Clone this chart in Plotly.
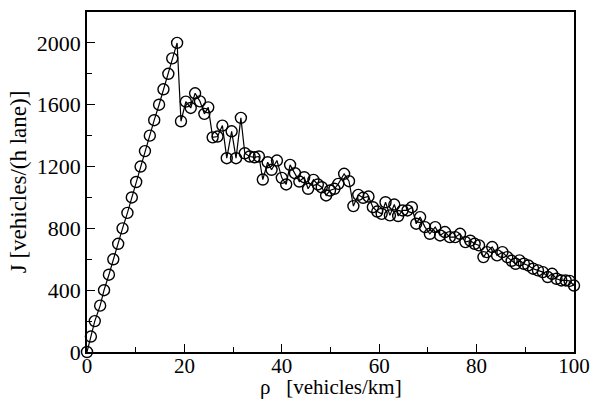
import plotly.graph_objects as go

# Linear (free-flow) branch
rho_free = [0, 0.8, 1.6, 2.7, 3.5, 4.5, 5.4, 6.4, 7.3, 8.3, 9.2, 10.1, 11.0,
            11.9, 12.9, 13.8, 14.8, 15.7, 16.7, 17.5, 18.5]
J_free = [0, 100, 200, 300, 400, 500, 600, 700, 800, 900, 1000, 1100, 1200,
          1300, 1400, 1500, 1600, 1700, 1800, 1900, 2000]

# Congested branch
rho_cong = [19.3, 20.3, 21.3, 22.2, 23.2, 24.1, 24.9, 25.8, 26.8, 27.8, 28.7, 29.7,
            30.6, 31.6, 32.4, 33.4, 34.4, 35.3, 36.1, 37.1, 37.9, 39.0, 40.0, 40.9,
            41.7, 42.7, 43.6, 44.6, 45.4, 46.5, 47.4, 48.2, 49.1, 49.9, 50.8, 51.6,
            52.8, 53.8, 54.7, 55.7, 56.7, 57.8, 58.7, 59.6, 60.5, 61.3, 62.2, 63.1,
            63.9, 64.8, 65.8, 66.7, 67.6, 68.4, 69.4, 70.4, 71.5, 72.5, 73.5, 74.5,
            75.6, 76.6, 77.7, 78.7, 79.6, 80.5, 81.4, 82.1, 83.2, 84.2, 85.3, 86.3,
            87.2, 88.0, 88.8, 89.7, 90.6, 91.6, 92.6, 93.6, 94.6, 95.5, 96.4, 97.4,
            98.3, 99.1, 100.0]
J_cong = [1493, 1620, 1579, 1674, 1622, 1541, 1583, 1389, 1394, 1465, 1254, 1428,
          1254, 1515, 1286, 1265, 1260, 1265, 1116, 1228, 1179, 1239, 1127, 1084,
          1211, 1157, 1103, 1131, 1056, 1114, 1084, 1066, 1013, 1045, 1056, 1088,
          1153, 1105, 944, 1017, 998, 1006, 937, 909, 894, 969, 884, 954,
          880, 916, 916, 937, 830, 873, 808, 765, 808, 754, 776, 743,
          743, 765, 711, 720, 700, 690, 614, 646, 679, 625, 646, 614,
          590, 571, 593, 571, 560, 539, 528, 517, 485, 506, 474, 463,
          463, 460, 430]

rho = rho_free + rho_cong
J = J_free + J_cong

x_ticks = [0, 20, 40, 60, 80, 100]
y_ticks = [0, 400, 800, 1200, 1600, 2000]
x_title = "ρ   [vehicles/km]"
y_title = "J [vehicles/(h lane)]"

font_family = "Liberation Serif"

fig = go.Figure()
fig.add_trace(go.Scatter(
    x=rho, y=J, mode="lines+markers",
    line=dict(color="black", width=1.2),
    marker=dict(symbol="circle-open", size=11, color="black",
                line=dict(color="black", width=1.4)),
    cliponaxis=False,
    showlegend=False,
))

axis_common = dict(
    showgrid=False, zeroline=False, automargin=False,
    showline=True, linecolor="black", linewidth=1.5, mirror=True,
    ticks="inside", ticklen=8, tickwidth=1.2, tickcolor="black",
    ticklabeloverflow="allow",
)

fig.update_xaxes(
    range=[0, 100], tickvals=x_ticks,
    minor=dict(ticks="inside", dtick=10, ticklen=5, tickwidth=1.2, tickcolor="black"),
    tickfont=dict(family=font_family, size=21, color="black"),
    ticklabelstandoff=-6,
    **axis_common,
)
fig.update_yaxes(
    range=[0, 2200], tickvals=y_ticks,
    minor=dict(ticks="inside", dtick=200, ticklen=5, tickwidth=1.2, tickcolor="black"),
    tickfont=dict(family=font_family, size=22, color="black"),
    title=dict(text=y_title, font=dict(family=font_family, size=23, color="black"),
               standoff=4),
    **axis_common,
)

# x-axis title placed just below the tick labels
fig.add_annotation(
    text=x_title, xref="paper", yref="paper", x=0.5, y=0,
    xanchor="center", yanchor="middle", yshift=-35, showarrow=False,
    font=dict(family=font_family, size=21, color="black"),
)

fig.update_layout(
    width=590, height=399,
    margin=dict(l=87, r=16, t=12, b=47),
    paper_bgcolor="white", plot_bgcolor="white",
    font=dict(family=font_family, color="black"),
)

# Remove the default page margin so the figure fills the window exactly.
fig.write_html(
    "out.html",
    config={"displayModeBar": False},
    post_script="document.body.style.margin='0';document.body.style.overflow='hidden';",
)
